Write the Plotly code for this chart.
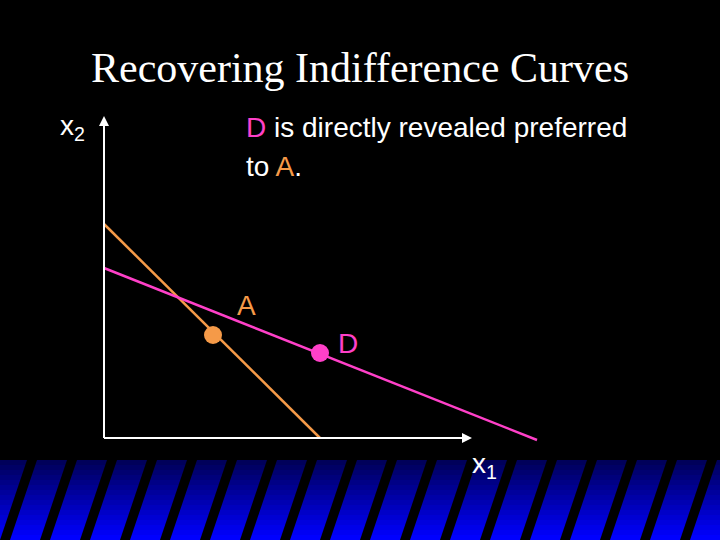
import plotly.graph_objects as go

# data (pixel-like coordinate space, y downward)
orange_line_x = [104, 320]
orange_line_y = [224, 438]
pink_line_x = [104, 537]
pink_line_y = [268, 440]
point_names = ["A", "D"]
point_x = [213, 320]
point_y = [335, 353]

ORANGE = "#f59a48"
PINK = "#ff40c8"

fig = go.Figure()
fig.add_trace(go.Scatter(x=orange_line_x, y=orange_line_y, mode="lines",
                         line=dict(color=ORANGE, width=2.5), hoverinfo="skip"))
fig.add_trace(go.Scatter(x=pink_line_x, y=pink_line_y, mode="lines",
                         line=dict(color=PINK, width=2.5), hoverinfo="skip"))
fig.add_trace(go.Scatter(x=point_x, y=point_y, mode="markers",
                         marker=dict(color=[ORANGE, PINK], size=18), hoverinfo="skip"))

shapes = []
n = 16
for i in range(n):
    y0 = 460 + i * 80 / n
    t = i / (n - 1)
    b = int(90 + 165 * t)
    shapes.append(dict(type="rect", xref="x", yref="y", x0=0, x1=720, y0=y0, y1=y0 + 80 / n + 0.5,
                       fillcolor=f"rgb(0,0,{b})", line=dict(width=0), layer="below"))
for k in range(-2, 22):
    xb = k * 40
    shapes.append(dict(type="path", xref="x", yref="y",
                       path=f"M {xb},540 L {xb+10},540 L {xb+10+27},460 L {xb+27},460 Z",
                       fillcolor="black", line=dict(width=0), layer="below"))
shapes.append(dict(type="line", xref="x", yref="y", x0=104, y0=438, x1=104, y1=122,
                   line=dict(color="white", width=2)))
shapes.append(dict(type="line", xref="x", yref="y", x0=104, y0=438, x1=466, y1=438,
                   line=dict(color="white", width=2)))
fig.update_layout(shapes=shapes)

anns = [
    dict(x=104, y=116, ax=104, ay=130, xref="x", yref="y", axref="x", ayref="y",
         showarrow=True, arrowhead=2, arrowsize=1, arrowwidth=2, arrowcolor="white", text=""),
    dict(x=472, y=438, ax=458, ay=438, xref="x", yref="y", axref="x", ayref="y",
         showarrow=True, arrowhead=2, arrowsize=1, arrowwidth=2, arrowcolor="white", text=""),
    dict(x=360, y=68, text="Recovering Indifference Curves", showarrow=False,
         font=dict(family="Liberation Serif", size=42, color="white")),
    dict(x=58, y=127, xanchor="left", text="x<sub>2</sub>", showarrow=False,
         font=dict(family="Liberation Sans", size=28, color="white")),
    dict(x=470, y=465, xanchor="left", text="x<sub>1</sub>", showarrow=False,
         font=dict(family="Liberation Sans", size=28, color="white")),
    dict(x=244, y=127, xanchor="left", showarrow=False,
         text=f"<span style='color:{PINK}'>D</span> is directly revealed preferred",
         font=dict(family="Liberation Sans", size=28, color="white")),
    dict(x=244, y=166, xanchor="left", showarrow=False,
         text=f"to <span style='color:{ORANGE}'>A</span>.",
         font=dict(family="Liberation Sans", size=28, color="white")),
    dict(x=246, y=305, text=point_names[0], showarrow=False,
         font=dict(family="Liberation Sans", size=28, color=ORANGE)),
    dict(x=348, y=343, text=point_names[1], showarrow=False,
         font=dict(family="Liberation Sans", size=28, color=PINK)),
]
for a in anns:
    a.setdefault("xref", "x"); a.setdefault("yref", "y")
fig.update_layout(annotations=anns)

fig.update_layout(width=720, height=540, margin=dict(l=0, r=0, t=0, b=0),
                  paper_bgcolor="black", plot_bgcolor="black", showlegend=False,
                  xaxis=dict(range=[0, 720], visible=False, fixedrange=True),
                  yaxis=dict(range=[540, 0], visible=False, fixedrange=True))
fig.write_html("out.html", config={"displayModeBar": False},
               post_script="document.body.style.margin='0';document.body.style.background='black';document.body.style.overflow='hidden';")
